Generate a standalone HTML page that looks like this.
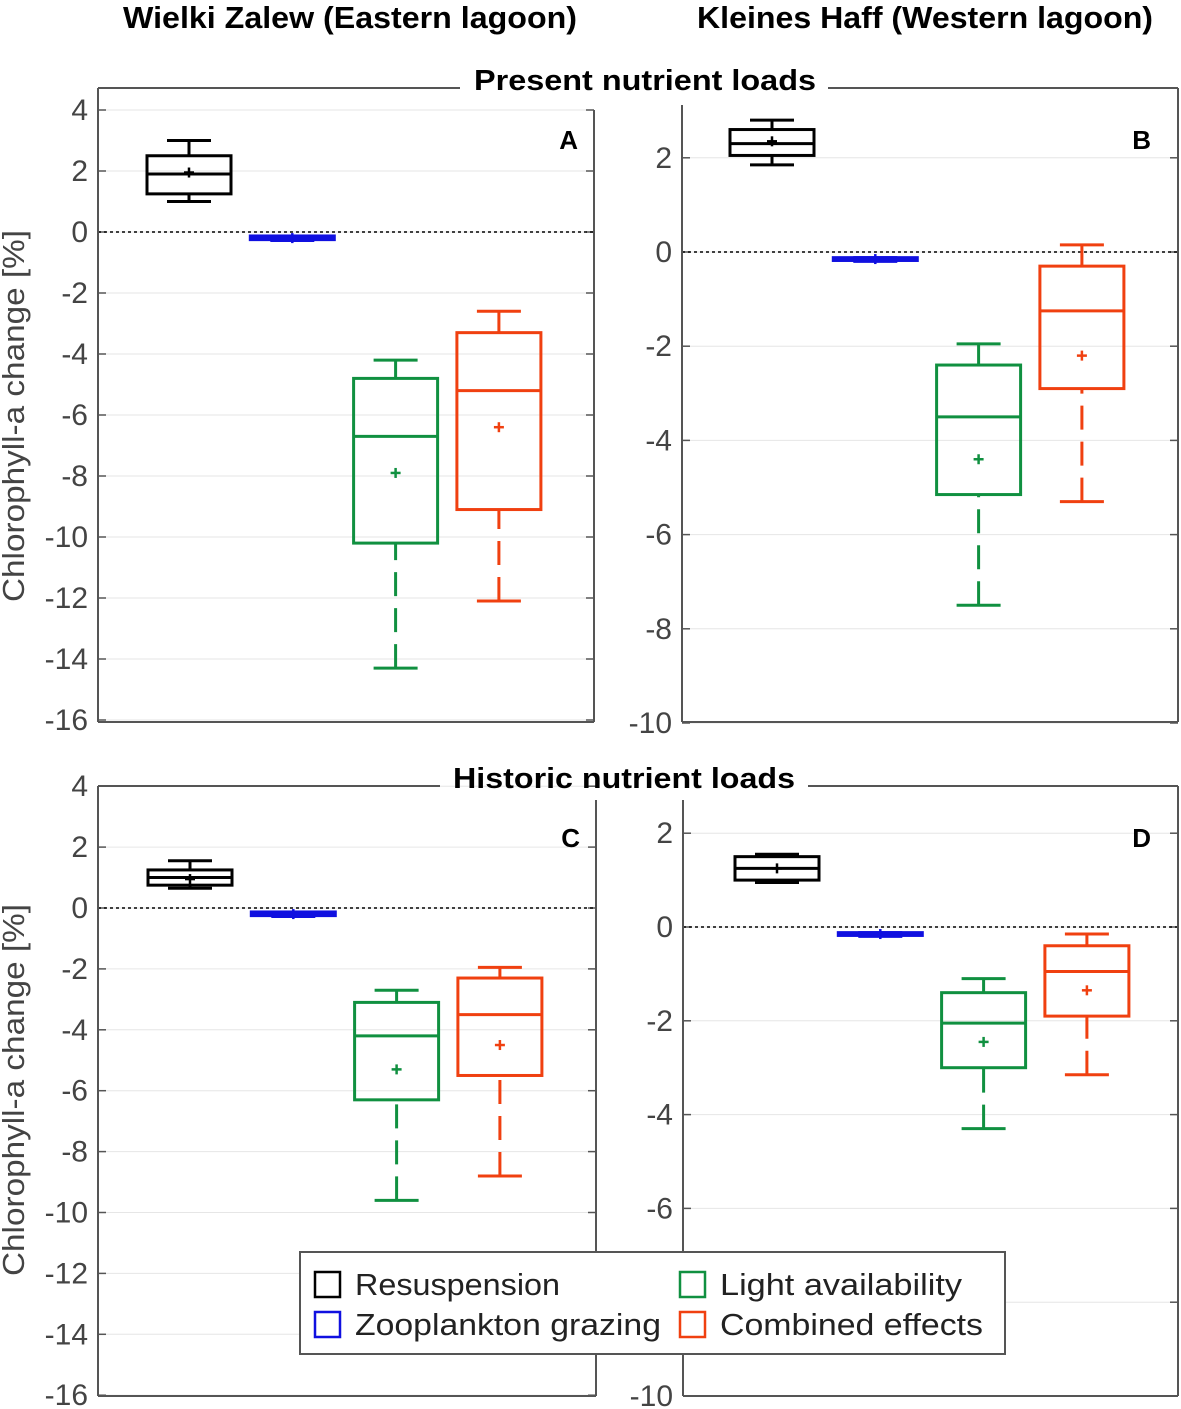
<!DOCTYPE html>
<html><head><meta charset="utf-8"><style>
body{margin:0;background:#fff;}
svg{display:block;font-family:"Liberation Sans",sans-serif;}
</style></head><body>
<svg id="chart" width="1181" height="1409" viewBox="0 0 1181 1409"></svg>
<script>
const categories = ["Resuspension","Zooplankton grazing","Light availability","Combined effects"];
const colors = ["#000000","#1010e0","#109040","#f04010"];
// [low, q1, median, q3, high, mean] per category
const panelA = [[1.0,1.25,1.9,2.5,3.0,1.95],[-0.28,-0.25,-0.2,-0.13,-0.13,-0.2],[-14.3,-10.2,-6.7,-4.8,-4.2,-7.9],[-12.1,-9.1,-5.2,-3.3,-2.6,-6.4]];
const panelB = [[1.85,2.05,2.3,2.6,2.8,2.35],[-0.2,-0.18,-0.15,-0.12,-0.12,-0.15],[-7.5,-5.15,-3.5,-2.4,-1.95,-4.4],[-5.3,-2.9,-1.25,-0.3,0.15,-2.2]];
const panelC = [[0.65,0.75,1.0,1.25,1.55,0.95],[-0.28,-0.25,-0.2,-0.13,-0.13,-0.2],[-9.6,-6.3,-4.2,-3.1,-2.7,-5.3],[-8.8,-5.5,-3.5,-2.3,-1.95,-4.5]];
const panelD = [[0.95,1.0,1.25,1.5,1.55,1.25],[-0.2,-0.18,-0.15,-0.12,-0.12,-0.15],[-4.3,-3.0,-2.05,-1.4,-1.1,-2.45],[-3.15,-1.9,-0.95,-0.4,-0.15,-1.35]];
const ticksLeft = [4,2,0,-2,-4,-6,-8,-10,-12,-14,-16];
const ticksRight = [2,0,-2,-4,-6,-8,-10];
const NS="http://www.w3.org/2000/svg";
const svg=document.getElementById('chart');
function mk(tag,attrs,parent){const e=document.createElementNS(NS,tag);for(const k in attrs)e.setAttribute(k,attrs[k]);(parent||svg).appendChild(e);return e;}
function txt(s,attrs,parent){const e=mk('text',attrs,parent);e.textContent=s;return e;}

function panel(name,data,ticks,x0,x1,yTop,yBot,v0,y0,pxPerUnit,cx0,letter,letterX,topBorder,rightEdgeTop,leftEdgeTop){
  const g=mk('g',{});
  
  
  const Y=v=>y0-v*pxPerUnit;
  const X=i=>cx0+i*103.3;
  ticks.forEach(t=>{
    const y=Y(t);
    const gl=mk('line',{x1:x0,x2:x1,y1:y,y2:y,stroke:'#e6e6e6','stroke-width':1},g);
    
    
    mk('line',{x1:x0,x2:x0+8,y1:y,y2:y,stroke:'#555','stroke-width':1.5},g);
    mk('line',{x1:x1-8,x2:x1,y1:y,y2:y,stroke:'#555','stroke-width':1.5},g);
    const tl=txt(String(t),{x:x0-10,y:y+10,'text-anchor':'end','font-size':30,fill:'#444'},g);
    
    
  });
  mk('line',{x1:x0,x2:x1,y1:Y(0),y2:Y(0),stroke:'#000','stroke-width':1.5,'stroke-dasharray':'3,3'},g);
  mk('line',{x1:x0,x2:x0,y1:leftEdgeTop,y2:yBot,stroke:'#555','stroke-width':2},g);
  mk('line',{x1:x1,x2:x1,y1:rightEdgeTop,y2:yBot,stroke:'#555','stroke-width':2},g);
  mk('line',{x1:x0,x2:x1,y1:yBot,y2:yBot,stroke:'#555','stroke-width':2},g);
  if(topBorder) topBorder.forEach(s=>mk('line',{x1:s[0],x2:s[1],y1:yTop,y2:yTop,stroke:'#555','stroke-width':2},g));
  const lt=txt(letter,{x:letterX,y:yTop+61,'text-anchor':'end','font-size':26,'font-weight':'bold'},g);
  
  
  data.forEach((d,i)=>{
    const c=colors[i],cx=X(i),w=42,cw=22;
    const b=mk('g',{},g);
    
    
    const sw=3;
    const dash=i>=2?'24,12':'none';
    mk('line',{x1:cx,x2:cx,y1:Y(d[0]),y2:Y(d[1]),stroke:c,'stroke-width':sw,'stroke-dasharray':dash},b);
    mk('line',{x1:cx,x2:cx,y1:Y(d[3]),y2:Y(d[4]),stroke:c,'stroke-width':sw,'stroke-dasharray':dash},b);
    mk('line',{x1:cx-cw,x2:cx+cw,y1:Y(d[0]),y2:Y(d[0]),stroke:c,'stroke-width':sw},b);
    mk('line',{x1:cx-cw,x2:cx+cw,y1:Y(d[4]),y2:Y(d[4]),stroke:c,'stroke-width':sw},b);
    mk('rect',{x:cx-w,y:Y(d[3]),width:2*w,height:Math.max(Y(d[1])-Y(d[3]),1),fill:'none',stroke:c,'stroke-width':sw},b);
    mk('line',{x1:cx-w,x2:cx+w,y1:Y(d[2]),y2:Y(d[2]),stroke:c,'stroke-width':sw},b);
    const my=Y(d[5]);
    mk('line',{x1:cx-5,x2:cx+5,y1:my,y2:my,stroke:c,'stroke-width':2.5},b);
    mk('line',{x1:cx,x2:cx,y1:my-5,y2:my+5,stroke:c,'stroke-width':2.5},b);
  });
}
panel('panel-a',panelA,ticksLeft,98,594,88,722,0,232,30.5,189,'A',578,[[98,460]],110,88);
panel('panel-b',panelB,ticksRight,682,1178,88,722,0,252,47.1,772,'B',1151,[[828,1178]],88,105);
panel('panel-c',panelC,ticksLeft,98,596,786,1396,0,908,30.45,190,'C',580,[[98,440]],800,786);
panel('panel-d',panelD,ticksRight,683,1178,786,1396,0,927,46.9,777,'D',1151,[[808,1178]],786,800);

function label(s,attrs,name){const t=txt(s,attrs);return t;}
label('Wielki Zalew (Eastern lagoon)',{x:350,y:28,'text-anchor':'middle','font-size':31,'font-weight':'bold',textLength:454,lengthAdjust:'spacingAndGlyphs'},'column-title-east');
label('Kleines Haff (Western lagoon)',{x:925,y:28,'text-anchor':'middle','font-size':31,'font-weight':'bold',textLength:456,lengthAdjust:'spacingAndGlyphs'},'column-title-west');
label('Present nutrient loads',{x:645,y:90,'text-anchor':'middle','font-size':29,'font-weight':'bold',textLength:342,lengthAdjust:'spacingAndGlyphs'},'row-title-present');
label('Historic nutrient loads',{x:624,y:788,'text-anchor':'middle','font-size':29,'font-weight':'bold',textLength:342,lengthAdjust:'spacingAndGlyphs'},'row-title-historic');
label('Chlorophyll-a change [%]',{x:0,y:0,transform:'translate(24,416) rotate(-90)','text-anchor':'middle','font-size':31,fill:'#444',textLength:372,lengthAdjust:'spacingAndGlyphs'},'y-axis-title-top');
label('Chlorophyll-a change [%]',{x:0,y:0,transform:'translate(24,1090) rotate(-90)','text-anchor':'middle','font-size':31,fill:'#444',textLength:372,lengthAdjust:'spacingAndGlyphs'},'y-axis-title-bottom');

const lg=mk('g',{});


mk('rect',{x:300,y:1252,width:705,height:102,fill:'#fff',stroke:'#555','stroke-width':2},lg);
const lpos=[[315,1272],[315,1312],[680,1272],[680,1312]];
const lwid=[205,306,242,263];
categories.forEach((c,i)=>{
  const e=mk('g',{},lg);
  
  
  const [x,y]=lpos[i];
  mk('rect',{x:x,y:y,width:25,height:25,fill:'none',stroke:i==0?'#000':colors[i],'stroke-width':2.5},e);
  txt(c,{x:x+40,y:y+23,'font-size':31,fill:'#222',textLength:lwid[i],lengthAdjust:'spacingAndGlyphs'},e);
});
</script>
</body></html>
